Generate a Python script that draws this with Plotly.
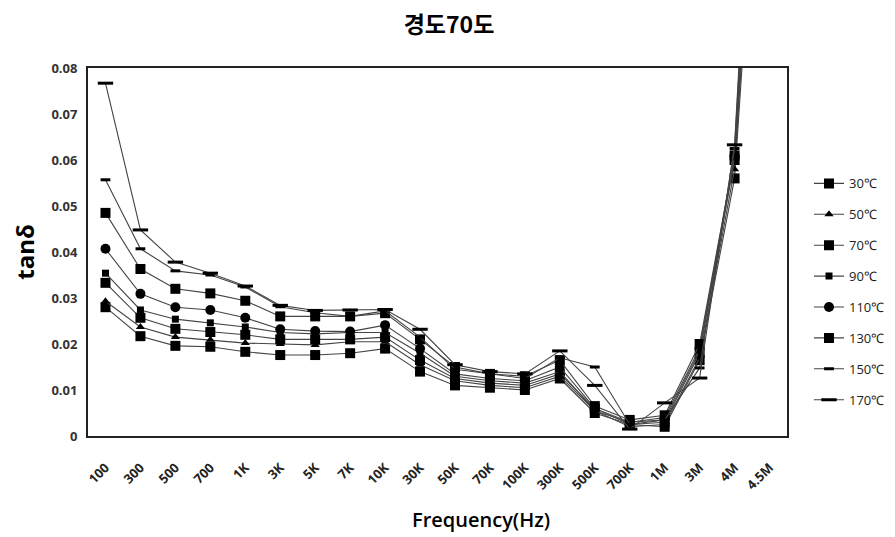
import plotly.graph_objects as go

categories = ["100", "300", "500", "700", "1K", "3K", "5K", "7K", "10K", "30K", "50K",
              "70K", "100K", "300K", "500K", "700K", "1M", "3M", "4M", "4.5M"]

t30 = [0.028, 0.0217, 0.0196, 0.0194, 0.0183, 0.0176, 0.0176, 0.018, 0.019, 0.014, 0.011,
       0.0105, 0.010, 0.0125, 0.005, 0.0025, 0.002, 0.0165, 0.056, 0.17]
t50 = [0.0293, 0.0237, 0.0215, 0.0209, 0.0202, 0.020, 0.0198, 0.0205, 0.0205, 0.0155, 0.012,
       0.011, 0.0105, 0.013, 0.0055, 0.002, 0.0025, 0.017, 0.058, 0.175]
t70 = [0.0333, 0.0257, 0.0233, 0.0226, 0.022, 0.021, 0.021, 0.021, 0.0215, 0.0165, 0.0125,
       0.0115, 0.011, 0.0135, 0.006, 0.0025, 0.003, 0.018, 0.060, 0.18]
t90 = [0.0354, 0.0274, 0.0254, 0.0246, 0.0237, 0.0225, 0.0222, 0.0225, 0.0225, 0.018, 0.013,
       0.012, 0.0115, 0.014, 0.0055, 0.003, 0.0035, 0.0185, 0.0605, 0.185]
t110 = [0.0407, 0.0309, 0.028, 0.0274, 0.0257, 0.0232, 0.0228, 0.0227, 0.0241, 0.019, 0.0135,
        0.0125, 0.012, 0.015, 0.006, 0.003, 0.004, 0.019, 0.061, 0.19]
t130 = [0.0485, 0.0363, 0.032, 0.031, 0.0294, 0.026, 0.026, 0.026, 0.0267, 0.021, 0.015,
        0.0135, 0.013, 0.0165, 0.0065, 0.0035, 0.0045, 0.020, 0.061, 0.19]
t150 = [0.0557, 0.0407, 0.0359, 0.035, 0.0324, 0.0281, 0.0268, 0.026, 0.0272, 0.0215, 0.0145,
        0.0135, 0.0125, 0.017, 0.015, 0.0025, 0.0035, 0.0148, 0.0625, 0.195]
t170 = [0.0767, 0.0448, 0.0378, 0.0354, 0.0326, 0.0284, 0.0273, 0.0274, 0.0275, 0.0232, 0.0155,
        0.014, 0.0135, 0.0185, 0.011, 0.0015, 0.0072, 0.0126, 0.0633, 0.2]

series_names = ["30℃", "50℃", "70℃", "90℃", "110℃", "130℃", "150℃", "170℃"]
series_values = [t30, t50, t70, t90, t110, t130, t150, t170]
marker_styles = [
    dict(symbol="square", size=10, color="black"),
    dict(symbol="triangle-up", size=8, color="black"),
    dict(symbol="square", size=10, color="black"),
    dict(symbol="square", size=7, color="black"),
    dict(symbol="circle", size=10, color="black"),
    dict(symbol="square", size=10, color="black"),
    dict(symbol="line-ew", size=7, color="black", line=dict(color="black", width=3)),
    dict(symbol="line-ew", size=11, color="black", line=dict(color="black", width=3)),
]

fig = go.Figure()
for name, vals, mk in zip(series_names, series_values, marker_styles):
    fig.add_trace(go.Scatter(
        x=categories, y=vals, name=name, mode="lines+markers",
        line=dict(color="#444444", width=1.1),
        marker=mk, legendgroup=name,
    ))

font_main = "Noto Sans CJK KR"
fig.update_layout(
    width=887, height=529,
    margin=dict(l=80, r=108, t=60, b=101, autoexpand=False),
    paper_bgcolor="white", plot_bgcolor="white",
    title=dict(text="경도70도", x=(449 - 8) / 887, xanchor="center", y=1 - 17 / 529, yanchor="middle",
               font=dict(family=font_main, size=23, color="black", weight="bold")),
    showlegend=True,
    legend=dict(x=(809 - 88) / 699, xanchor="left", y=0.727, yanchor="top",
                font=dict(family="Open Sans", size=13, color="#222222"),
                tracegroupgap=11, itemwidth=30, bgcolor="rgba(0,0,0,0)"),
    xaxis=dict(type="category", range=[-0.5, 19.5], showgrid=False,
               showline=True, linecolor="#222222", linewidth=2, mirror=True,
               tickangle=-45, ticks="outside", ticklen=17, tickcolor="rgba(0,0,0,0)",
               tickfont=dict(family="Open Sans", size=13, color="#222222", weight="bold")),
    yaxis=dict(range=[0, 0.08], dtick=0.01, showgrid=False, zeroline=False,
               showline=True, linecolor="#222222", linewidth=2, mirror=True,
               ticks="outside", ticklen=6, tickcolor="rgba(0,0,0,0)", tickformat="~g",
               tickfont=dict(family="Open Sans", size=13, color="#333333", weight="bold"),
               title=dict(text="tanδ", standoff=10,
                          font=dict(family="Open Sans", size=24, color="black", weight="bold"))),
    annotations=[dict(text="Frequency(Hz)", xref="paper", yref="paper",
                      x=(481 - 88) / 699, y=-(520 - 436) / 368, xanchor="center", yanchor="middle",
                      showarrow=False,
                      font=dict(family="Open Sans", size=20, color="black", weight=600))],
)

fig.write_html("out.html")
